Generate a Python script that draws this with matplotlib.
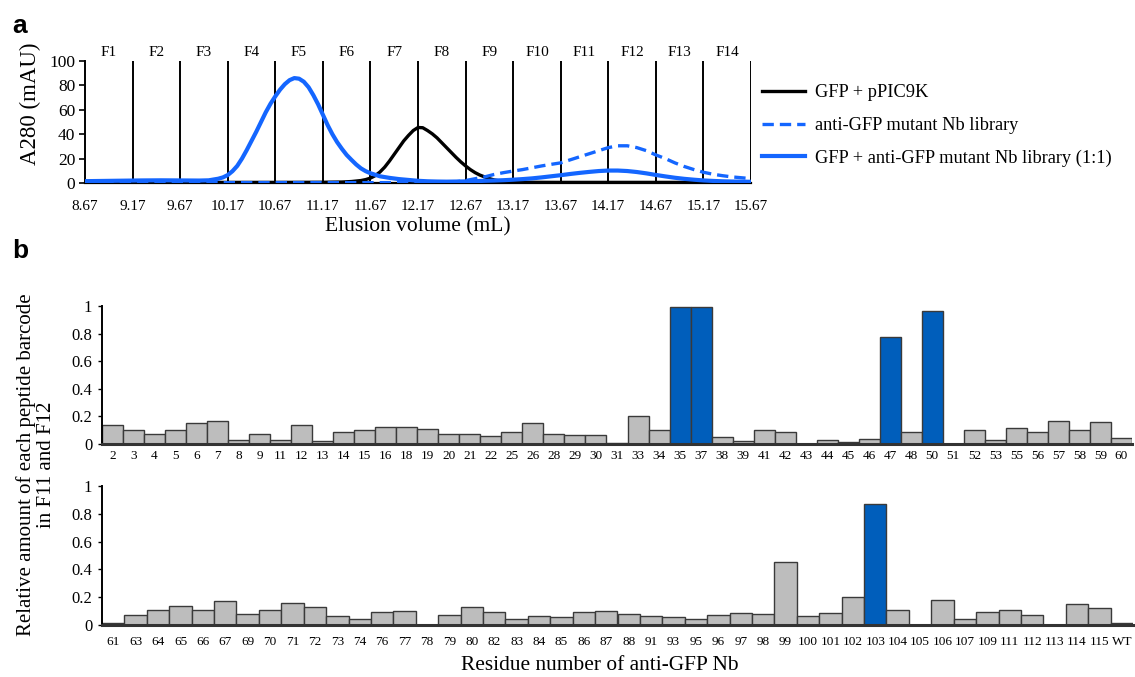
import matplotlib
matplotlib.use("Agg")
import matplotlib.pyplot as plt
from matplotlib.lines import Line2D

plt.rcParams['font.family'] = ['Liberation Serif', 'DejaVu Serif']

# ---------------- Panel a data ----------------
# GFP + pPIC9K (black)
black_ml = [8.67, 9.17, 9.67, 10.17, 10.67, 11.17, 11.27, 11.37, 11.47, 11.57,
            11.62, 11.67, 11.72, 11.77, 11.82, 11.87, 11.92, 11.97, 12.02, 12.07,
            12.12, 12.17, 12.22, 12.27, 12.32, 12.37, 12.42, 12.47, 12.52, 12.57,
            12.62, 12.67, 12.72, 12.77, 12.82, 12.87, 12.92, 12.97, 13.02, 13.07,
            13.17, 13.27, 13.67, 14.17, 14.67, 15.17, 15.67]
gfp_ppic9k = [0.5, 0.5, 0.5, 0.5, 0.5, 0.6, 0.7, 0.8, 1.2, 2.0,
              2.8, 4.0, 6.0, 9.0, 13.0, 18.0, 23.5, 29.0, 34.5, 39.0,
              43.0, 45.5, 45.3, 43.0, 40.3, 37.0, 33.0, 29.0, 25.0, 21.0,
              17.3, 14.0, 11.0, 8.5, 6.5, 5.0, 3.6, 2.5, 1.8, 1.3,
              0.8, 0.6, 0.5, 0.5, 0.5, 0.5, 0.5]
# anti-GFP mutant Nb library (blue dashed)
dashed_ml = [8.67, 9.67, 10.67, 11.67, 12.27, 12.37, 12.47, 12.57, 12.67, 12.77,
             12.87, 12.97, 13.07, 13.17, 13.27, 13.37, 13.47, 13.57, 13.67, 13.77,
             13.87, 13.97, 14.07, 14.17, 14.27, 14.37, 14.47, 14.57, 14.67, 14.77,
             14.87, 14.97, 15.07, 15.17, 15.27, 15.37, 15.47, 15.57, 15.67]
nb_library = [0.3, 0.3, 0.3, 0.3, 0.4, 0.5, 0.7, 1.0, 2.0, 3.5,
              5.0, 7.0, 8.5, 9.8, 11.0, 12.5, 14.0, 15.3, 16.5, 19.0,
              21.5, 24.0, 26.5, 29.0, 30.5, 30.5, 29.0, 26.5, 23.0, 20.0,
              16.5, 13.5, 11.0, 8.8, 7.2, 6.0, 5.0, 4.3, 3.6]
# GFP + anti-GFP mutant Nb library 1:1 (blue solid)
mix_ml = [8.67, 8.87, 9.07, 9.27, 9.47, 9.67, 9.87, 9.97, 10.07, 10.12,
          10.17, 10.22, 10.27, 10.32, 10.37, 10.42, 10.47, 10.52, 10.57, 10.62,
          10.67, 10.72, 10.77, 10.82, 10.87, 10.92, 10.97, 11.02, 11.07, 11.12,
          11.17, 11.22, 11.27, 11.32, 11.37, 11.42, 11.47, 11.52, 11.57, 11.62,
          11.67, 11.77, 11.87, 11.97, 12.07, 12.17, 12.27, 12.37, 12.47, 12.57,
          12.67, 12.77, 12.87, 12.97, 13.07, 13.17, 13.27, 13.37, 13.47, 13.57,
          13.67, 13.77, 13.87, 13.97, 14.07, 14.17, 14.27, 14.37, 14.47, 14.57,
          14.67, 14.77, 14.87, 14.97, 15.07, 15.17, 15.27, 15.37, 15.47, 15.57,
          15.67]
gfp_nb_mix = [1.5, 1.7, 1.9, 2.1, 2.2, 2.1, 2.0, 2.2, 3.5, 4.6,
              6.5, 9.7, 14.0, 20.0, 27.0, 34.5, 42.0, 50.0, 58.0, 65.0,
              71.0, 76.5, 81.0, 84.3, 86.0, 85.5, 83.0, 78.5, 72.0, 64.5,
              56.0, 47.5, 40.0, 33.5, 28.0, 23.0, 19.0, 15.2, 12.0, 9.7,
              8.0, 5.5, 4.2, 3.2, 2.5, 1.8, 1.4, 1.2, 1.1, 1.2,
              1.3, 1.5, 1.8, 2.0, 2.3, 2.7, 3.2, 3.8, 4.6, 5.5,
              6.4, 7.4, 8.3, 9.1, 9.8, 10.2, 10.2, 9.8, 9.0, 7.9,
              6.6, 5.4, 4.3, 3.4, 2.7, 2.1, 1.7, 1.4, 1.2, 1.1,
              1.0]
fraction_edges = [8.67, 9.17, 9.67, 10.17, 10.67, 11.17, 11.67, 12.17, 12.67,
                  13.17, 13.67, 14.17, 14.67, 15.17, 15.67]
fraction_labels = ['F1', 'F2', 'F3', 'F4', 'F5', 'F6', 'F7', 'F8', 'F9',
                   'F10', 'F11', 'F12', 'F13', 'F14']
a_xticks = ['8.67', '9.17', '9.67', '10.17', '10.67', '11.17', '11.67', '12.17',
            '12.67', '13.17', '13.67', '14.17', '14.67', '15.17', '15.67']
series_labels = ['GFP + pPIC9K', 'anti-GFP mutant Nb library',
                 'GFP + anti-GFP mutant Nb library (1:1)']

# ---------------- Panel b data ----------------
residues_top = ['2', '3', '4', '5', '6', '7', '8', '9', '11', '12', '13', '14', '15',
                '16', '18', '19', '20', '21', '22', '25', '26', '28', '29', '30', '31',
                '33', '34', '35', '37', '38', '39', '41', '42', '43', '44', '45', '46',
                '47', '48', '50', '51', '52', '53', '55', '56', '57', '58', '59', '60']
values_top = [0.14, 0.10, 0.07, 0.10, 0.15, 0.17, 0.03, 0.07, 0.03, 0.14, 0.02, 0.09, 0.10,
              0.125, 0.12, 0.11, 0.07, 0.07, 0.06, 0.085, 0.15, 0.07, 0.065, 0.065, 0.01,
              0.205, 0.10, 0.995, 0.995, 0.05, 0.025, 0.10, 0.09, 0.0, 0.03, 0.015, 0.035,
              0.775, 0.085, 0.965, 0.0, 0.10, 0.03, 0.115, 0.085, 0.165, 0.10, 0.16, 0.045]
residues_bottom = ['61', '63', '64', '65', '66', '67', '69', '70', '71', '72', '73', '74',
                   '76', '77', '78', '79', '80', '82', '83', '84', '85', '86', '87', '88',
                   '91', '93', '95', '96', '97', '98', '99', '100', '101', '102', '103',
                   '104', '105', '106', '107', '109', '111', '112', '113', '114', '115', 'WT']
values_bottom = [0.012, 0.07, 0.105, 0.14, 0.105, 0.175, 0.077, 0.105, 0.16, 0.13, 0.065, 0.04,
                 0.09, 0.10, 0.0, 0.075, 0.13, 0.095, 0.045, 0.068, 0.058, 0.095, 0.103, 0.08,
                 0.068, 0.055, 0.045, 0.072, 0.087, 0.08, 0.455, 0.068, 0.087, 0.20, 0.873,
                 0.105, 0.0, 0.178, 0.046, 0.094, 0.108, 0.074, 0.0, 0.151, 0.122, 0.017]
highlight = ['35', '37', '47', '50', '103']

BLUE_LINE = '#1466ff'
BLUE_BAR = '#005ebb'
GRAY_BAR = '#bdbdbd'
EDGE = '#3a3a3a'
DASH = (0, (3.4, 1.8))

W, H = 1135, 677
fig = plt.figure(figsize=(W / 100, H / 100), dpi=100)


def rect(l, t, r, b):
    return [l / W, 1 - b / H, (r - l) / W, (b - t) / H]


# ---------------- Panel a ----------------
ax = fig.add_axes(rect(85, 61, 751, 183))
ax.vlines(fraction_edges[1:], 0, 100, color='black', lw=1.4, zorder=1)
ax.plot(black_ml, gfp_ppic9k, color='black', lw=2.4, zorder=3, solid_joinstyle='round')
ax.plot(dashed_ml, nb_library, color=BLUE_LINE, lw=2.4, ls=DASH, zorder=4)
ax.plot(mix_ml, gfp_nb_mix, color=BLUE_LINE, lw=3.0, zorder=5, solid_joinstyle='round')
ax.set_xlim(fraction_edges[0], fraction_edges[-1])
ax.set_ylim(0, 100)
ax.set_yticks([0, 20, 40, 60, 80, 100])
ax.set_xticks([float(t) for t in a_xticks])
ax.set_xticklabels(a_xticks, fontsize=11)
ax.tick_params(axis='x', length=0, pad=12)
ax.tick_params(axis='y', labelsize=12.5, length=4, width=1.2, direction='out', pad=3)
for s in ['top', 'right']:
    ax.spines[s].set_visible(False)
ax.spines['left'].set_linewidth(1.4)
ax.spines['bottom'].set_linewidth(1.6)
for i, lab in enumerate(fraction_labels):
    xm = (fraction_edges[i] + fraction_edges[i + 1]) / 2
    ax.text(xm, 101.5, lab, ha='center', va='bottom', fontsize=11, clip_on=False)
ax.set_xlabel('Elusion volume (mL)', fontsize=15.5, labelpad=3)
fig.text(30 / W, 1 - 104 / H, 'A280 (mAU)', rotation=90, ha='center', va='center',
         fontsize=16.5)

handles = [Line2D([], [], color='black', lw=2.4),
           Line2D([], [], color=BLUE_LINE, lw=2.4, ls=DASH),
           Line2D([], [], color=BLUE_LINE, lw=3.0)]
fig.legend(handles, series_labels, loc='upper left', bbox_to_anchor=(755 / W, 1 - 77 / H),
           frameon=False, fontsize=13.2, handlelength=2.3, handletextpad=0.55,
           labelspacing=0.85, borderaxespad=0)


# ---------------- Panel b ----------------
def bar_panel(box, residues, values, labpad):
    axb = fig.add_axes(rect(*box))
    xs = list(range(len(residues)))
    colors = [BLUE_BAR if r in highlight else GRAY_BAR for r in residues]
    axb.bar(xs, values, width=1.0, color=colors, edgecolor=EDGE, linewidth=1.0, zorder=2)
    axb.set_xlim(-0.5, len(residues) - 0.5)
    axb.set_ylim(0, 1)
    axb.set_yticks([0, 0.2, 0.4, 0.6, 0.8, 1.0])
    axb.set_yticklabels(['0', '0.2', '0.4', '0.6', '0.8', '1'])
    axb.set_xticks(xs)
    axb.set_xticklabels(residues, fontsize=9.5)
    axb.tick_params(axis='x', length=0, pad=labpad)
    axb.tick_params(axis='y', labelsize=12, length=3, width=1.0, direction='out', pad=4)
    for s in ['top', 'right']:
        axb.spines[s].set_visible(False)
    axb.spines['left'].set_linewidth(1.4)
    axb.spines['bottom'].set_linewidth(2.2)
    axb.spines['bottom'].set_color('#333333')
    return axb


bar_panel((102, 306, 1132, 444), residues_top, values_top, 4)
bar_panel((102, 486, 1133, 625), residues_bottom, values_bottom, 8)

fig.text(36 / W, 1 - 465 / H, 'Relative amount of each peptide barcode\nin F11 and F12',
         rotation=90, ha='center', va='center', fontsize=15, linespacing=1.05)
fig.text(600 / W, 1 - 665 / H, 'Residue number of anti-GFP Nb', ha='center', va='center',
         fontsize=15.4)

fig.text(12 / W, 1 - 26 / H, 'a', fontsize=19, fontweight='bold',
         family=['Liberation Sans', 'DejaVu Sans'], ha='left', va='center')
fig.text(12 / W, 1 - 251 / H, 'b', fontsize=19, fontweight='bold',
         family=['Liberation Sans', 'DejaVu Sans'], ha='left', va='center')

fig.savefig('out.png', dpi=100)
